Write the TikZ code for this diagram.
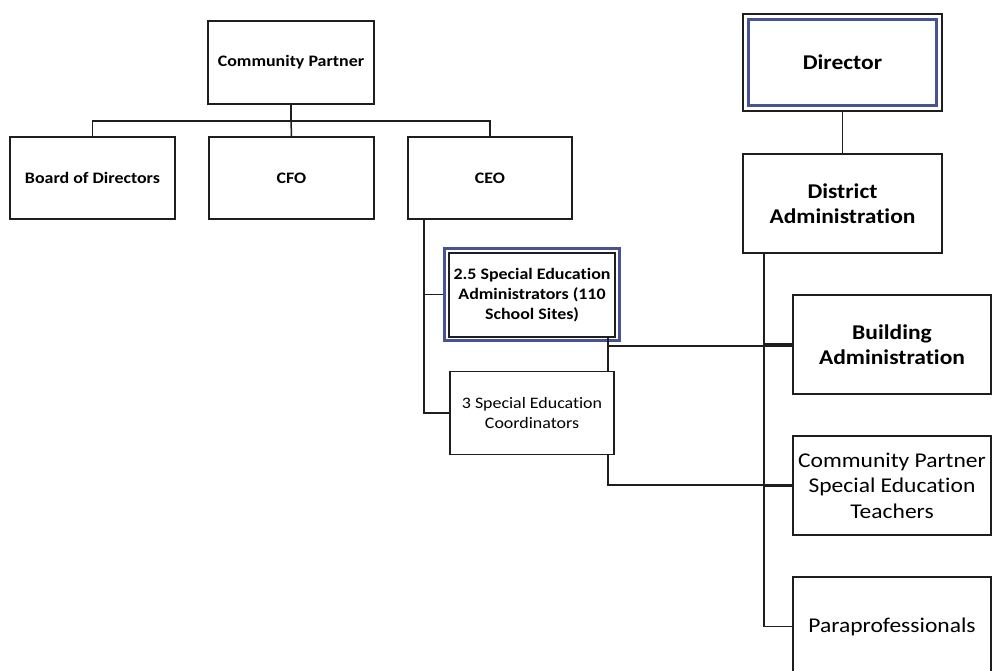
\documentclass[tikz,border=0pt]{standalone}
\usepackage{fontspec}
\setmainfont[FakeStretch=1.12, Ligatures=NoCommon]{Carlito}
\usetikzlibrary{calc}
\definecolor{linegray}{RGB}{30,30,30}
\definecolor{frameblue}{RGB}{70,84,150}
\tikzset{
  box/.style={draw=linegray, line width=1.7pt, fill=white, rectangle, align=center, inner sep=2pt},
  smalltext/.style={font=\fontsize{16}{20}\selectfont},
  bigtext/.style={font=\fontsize{21}{25.5}\selectfont},
  bluebox/.style={draw=frameblue, line width=2.4pt, rectangle, fill=white},
  link/.style={draw=linegray, line width=1.5pt},
  bus/.style={draw=linegray, line width=1.8pt},
}
\begin{document}
\begin{tikzpicture}[x=1pt, y=-1pt]
  \path[use as bounding box] (0,0) rectangle (992,671);
  \clip (0,0) rectangle (992,671);
  \fill[white] (0,0) rectangle (992,671);

  % left organisation
  \node[box, smalltext, minimum width=166, minimum height=83] (cp) at (291,62.5) {\bfseries Community Partner};
  \node[box, smalltext, minimum width=165, minimum height=82] (bod) at (92.5,178) {\bfseries Board of Directors};
  \node[box, smalltext, minimum width=165, minimum height=82] (cfo) at (291.5,178) {\bfseries CFO};
  \node[box, smalltext, minimum width=164, minimum height=82] (ceo) at (490,178) {\bfseries CEO};

  \node[bluebox, minimum width=175, minimum height=92] (seaframe) at (532,294.5) {};
  \node[box, smalltext, minimum width=166, minimum height=84] (sea) at (532,295)
    {\bfseries 2.5 Special Education\\\bfseries Administrators (110\\\bfseries School Sites)};
  \node[box, smalltext, minimum width=164, minimum height=83] (sec) at (532,413)
    {3 Special Education\\Coordinators};

  % right organisation
  \node[box, minimum width=199, minimum height=97] (dirframe) at (842.5,62.5) {};
  \node[bluebox, bigtext, minimum width=188, minimum height=86] (dir) at (842.5,62.5) {\bfseries Director};
  \node[box, bigtext, minimum width=199, minimum height=99] (dist) at (842.5,203.5)
    {\bfseries District\\\bfseries Administration};
  \node[box, bigtext, minimum width=198, minimum height=99] (bld) at (892,344.5)
    {\bfseries Building\\\bfseries Administration};
  \node[box, bigtext, minimum width=198, minimum height=99] (cpt) at (892,485.5)
    {Community Partner\\Special Education\\Teachers};
  \node[box, bigtext, minimum width=198, minimum height=99] (para) at (892,626.5)
    {Paraprofessionals};

  % junction points
  \coordinate (bar) at (291,121);
  \coordinate (ceotrunk) at ($(ceo.south west)+(17,0)$);
  \coordinate (seadrop) at (608,346);
  \coordinate (secdrop) at (608,485);
  \coordinate (disttrunk) at (764,0);

  % left connectors
  \draw[link] (cp.south) -- (bar);
  \draw[link] (bod.north) |- (bar) -| (ceo.north);
  \draw[link] (bar) -- (cfo.north);
  \draw[bus] (ceotrunk) |- (seaframe.west);
  \draw[bus] (ceotrunk) |- (sec.west);

  % cross connectors
  \draw[link] (sea.south -| seadrop) -- (sec.north -| seadrop);
  \draw[link] (seadrop) -- (seadrop -| bld.west);
  \draw[link] (sec.south -| secdrop) -- (secdrop) -- (secdrop -| cpt.west);

  % right connectors
  \draw[link] (dirframe.south) -- (dist.north);
  \draw[bus] (dist.south -| disttrunk) |- (para.west);
  \draw[bus, line width=2.2pt] (bld.west -| disttrunk) -- (bld.west);
  \draw[bus, line width=2.2pt] (cpt.west -| disttrunk) -- (cpt.west);
\end{tikzpicture}
\end{document}
